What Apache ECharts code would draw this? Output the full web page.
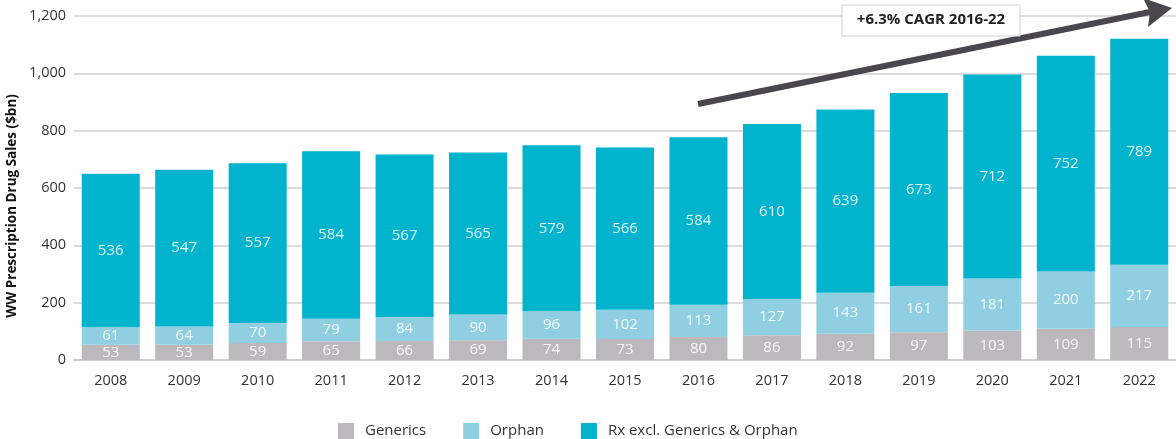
<!DOCTYPE html>
<html>
<head>
<meta charset="utf-8">
<script src="https://cdn.jsdelivr.net/npm/echarts@6/dist/echarts.min.js"></script>
<style>
  html, body { margin: 0; padding: 0; background: #fff; }
  #chart { width: 1176px; height: 439px; }
</style>
</head>
<body>
<div id="chart"></div>
<script>
var years = ["2008", "2009", "2010", "2011", "2012", "2013", "2014", "2015", "2016", "2017", "2018", "2019", "2020", "2021", "2022"];
var generics = [53, 53, 59, 65, 66, 69, 74, 73, 80, 86, 92, 97, 103, 109, 115];
var orphan = [61, 64, 70, 79, 84, 90, 96, 102, 113, 127, 143, 161, 181, 200, 217];
var rxOther = [536, 547, 557, 584, 567, 565, 579, 566, 584, 610, 639, 673, 712, 752, 789];

var font = "'Open Sans', Lato, sans-serif";
var colors = ["#bbb9be", "#8fcfe1", "#02b3cd"];

var chart = echarts.init(document.getElementById("chart"));

function barSeries(name, data, color) {
  return {
    name: name,
    type: "bar",
    stack: "total",
    barWidth: "79%",
    itemStyle: { color: color },
    label: {
      show: true,
      position: "inside",
      color: "rgba(255,255,255,0.88)",
      fontFamily: font,
      fontSize: 15
    },
    data: data
  };
}

var option = {
  animation: false,
  grid: { left: 74, right: 0, top: 16, bottom: 79 },
  legend: {
    top: 418,
    left: 333,
    itemWidth: 16,
    itemHeight: 16,
    itemGap: 37,
    icon: "rect",
    textStyle: { fontFamily: font, fontSize: 15, color: "#333", padding: [0, 0, 0, 6] },
    data: ["Generics", "Orphan", "Rx excl. Generics & Orphan"]
  },
  xAxis: {
    type: "category",
    data: years,
    axisTick: { show: false },
    axisLine: { lineStyle: { color: "#cfcfcf", width: 2 } },
    axisLabel: { color: "#333", fontFamily: font, fontSize: 14.5, margin: 13 }
  },
  yAxis: {
    type: "value",
    min: 0,
    max: 1200,
    interval: 200,
    axisLabel: {
      color: "#333",
      fontFamily: font,
      fontSize: 14.5,
      margin: 8,
      formatter: function (v) { return v.toLocaleString("en-US"); }
    },
    splitLine: { lineStyle: { color: "#dcdcdc", width: 2 } }
  },
  series: [
    barSeries("Generics", generics, colors[0]),
    barSeries("Orphan", orphan, colors[1]),
    barSeries("Rx excl. Generics & Orphan", rxOther, colors[2])
  ],
  graphic: [
    {
      type: "text",
      x: 12,
      y: 206,
      rotation: Math.PI / 2,
      style: {
        text: "WW Prescription Drug Sales ($bn)",
        fontFamily: font,
        fontWeight: "bold",
        fontSize: 13.5,
        fill: "#111",
        align: "center",
        verticalAlign: "middle"
      }
    },
    {
      type: "line",
      z: 100,
      shape: { x1: 698, y1: 104, x2: 1150, y2: 12 },
      style: { stroke: "#4a474c", lineWidth: 6 }
    },
    {
      type: "polygon",
      z: 100,
      shape: { points: [[1172, 8], [1143, -2], [1150, 12], [1148, 27]] },
      style: { fill: "#4a474c" }
    },
    {
      type: "rect",
      z: 101,
      shape: { x: 842, y: 5, width: 178, height: 31 },
      style: { fill: "#fff", stroke: "#d0d0d0", lineWidth: 1 }
    },
    {
      type: "text",
      z: 102,
      x: 931,
      y: 20,
      style: {
        text: "+6.3% CAGR 2016-22",
        fontFamily: font,
        fontWeight: "bold",
        fontSize: 15,
        fill: "#222",
        align: "center",
        verticalAlign: "middle"
      }
    }
  ]
};

chart.setOption(option);
</script>
</body>
</html>
